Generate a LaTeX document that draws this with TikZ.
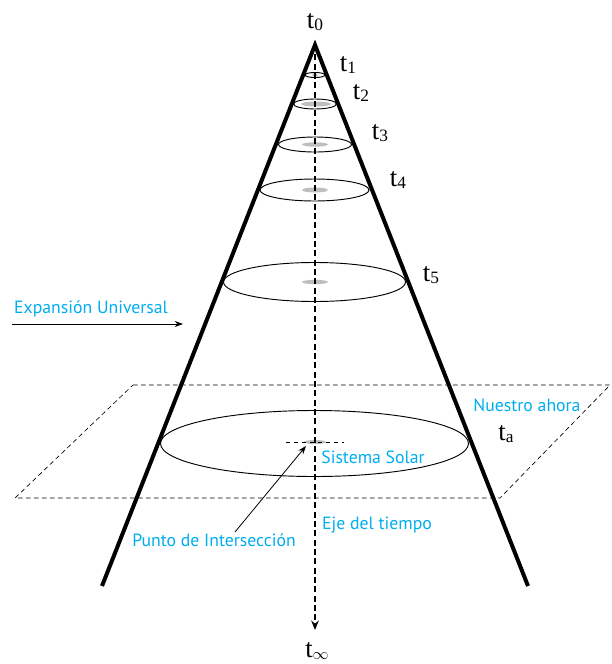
\documentclass[tikz,border=0pt]{standalone}
\usepackage{fontspec}
\setmainfont{Liberation Serif}
\setsansfont{PT Sans}
\usepackage{tikz}
\usetikzlibrary{arrows.meta,positioning}
\definecolor{skycyan}{RGB}{0,174,239}
\definecolor{coregray}{RGB}{190,190,190}
\newcommand{\tlab}[1]{t\raisebox{-0.2ex}{\fontsize{13}{14}\selectfont #1}}
\tikzset{
  cone/.style={line width=3pt,line join=miter},
  slice/.style={draw,line width=0.7pt},
  core/.style={fill=coregray,draw=none},
  tlabel/.style={font=\fontsize{20}{22}\selectfont,inner sep=0pt},
  note/.style={font=\sffamily\fontsize{13.3}{15}\selectfont,text=skycyan,inner sep=0pt},
  axis/.style={line width=1.4pt,dash pattern=on 4.5pt off 2.5pt,-{Stealth[length=2.5mm,width=2mm]}},
  plane/.style={line width=0.5pt,dash pattern=on 3.5pt off 2.5pt},
  pointer/.style={line width=0.6pt,-{Stealth[length=2.2mm,width=1.6mm]}},
}
\begin{document}
\begin{tikzpicture}[x=0.75pt,y=-0.75pt]
  \useasboundingbox (0,0) rectangle (611,664);
  % plano del presente
  \coordinate (p1) at (133,385);
  \coordinate (p2) at (610,385);
  \coordinate (p3) at (500,498);
  \coordinate (p4) at (15,498);
  \draw[plane] (p1) -- (p2) -- (p3) -- (p4) -- cycle;
  % cortes del cono
  \draw[slice] (315,75) ellipse [x radius=10,y radius=2.5];
  \fill[core] (315,75) ellipse [x radius=3,y radius=1];
  \draw[slice] (315,104) ellipse [x radius=21.5,y radius=5];
  \fill[core] (316,104) ellipse [x radius=15,y radius=2.5];
  \draw[slice] (315,144.5) ellipse [x radius=36.5,y radius=7.5];
  \fill[core] (315,144.5) ellipse [x radius=13,y radius=2.2];
  \draw[slice] (314.5,190) ellipse [x radius=54.5,y radius=11];
  \fill[core] (315,190) ellipse [x radius=13,y radius=2.5];
  \draw[slice] (314.5,282) ellipse [x radius=91,y radius=19.5];
  \fill[core] (315,282) ellipse [x radius=13,y radius=2.2];
  \draw[slice] (314.5,443.5) ellipse [x radius=154,y radius=33];
  \fill[core] (315,442) ellipse [x radius=11,y radius=2];
  \coordinate (sol) at (315,442);
  \draw[plane] ([xshift=-22]sol) -- ([xshift=22]sol);
  % cono y eje
  \coordinate (apex) at (315,45);
  \coordinate (lbot) at (102,586);
  \coordinate (rbot) at (528,586);
  \coordinate (axend) at (315,630);
  \draw[cone] (lbot) -- (apex) -- (rbot);
  \draw[axis] (apex) -- (axend);
  % etiquetas de tiempo
  \node[tlabel] (t0) at (315,22) {\tlab{0}};
  \node[tlabel] (t1) at (348,65) {\tlab{1}};
  \node[tlabel] (t2) at (361,93) {\tlab{2}};
  \node[tlabel] (t3) at (380,133) {\tlab{3}};
  \node[tlabel] (t4) at (398,180) {\tlab{4}};
  \node[tlabel] (t5) at (431,275) {\tlab{5}};
  \node[tlabel] (ta) at (506,434) {\tlab{a}};
  \node[tlabel] (tinf) at (317,651) {t\raisebox{-0.2ex}{\fontsize{13}{14}\selectfont$\infty$}};
  % textos
  \node[note] (expansion) at (91,309) {Expansión Universal};
  \node[note] (ahora) at (527,405) {Nuestro ahora};
  \node[note] (solar) at (373,457) {Sistema Solar};
  \node[note] (punto) at (214,540) {Punto de Intersección};
  \node[note] (eje) at (377,525) {Eje del tiempo};
  \coordinate (expa) at (12,324);
  \coordinate (expb) at (183,324);
  \draw[pointer] (expa) -- (expb);
  \coordinate (ptail) at (235,532);
  \draw[pointer] (ptail) -- ([shift={(-9,4)}]sol);
\end{tikzpicture}
\end{document}
